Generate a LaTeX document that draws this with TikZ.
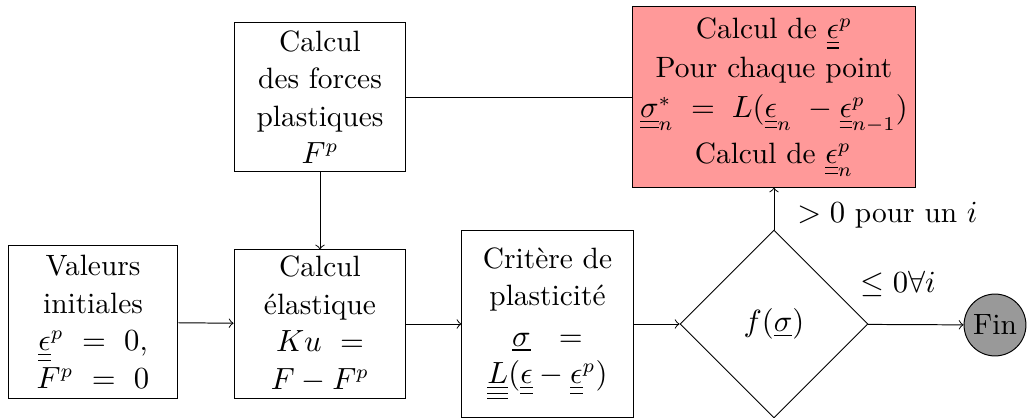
\documentclass[tikz,border=0pt]{standalone}
\usetikzlibrary{shapes.geometric}
\newcommand{\uu}[1]{\underline{\underline{#1}}}
\newcommand{\uuu}[1]{\underline{\underline{\underline{#1}}}}
\begin{document}
\begin{tikzpicture}[x=0.35714pt,y=-0.35714pt,
  line width=0.35pt,
  font=\fontsize{10.5}{13.4}\selectfont,
  box/.style={draw,align=center,inner sep=1pt},
  arr/.style={->},
  lbl/.style={inner sep=0pt}]
\useasboundingbox (0,0) rectangle (1028,418);
\node[box,minimum width=60.7pt,minimum height=54.3pt] (init) at (93,322)
  {Valeurs\\initiales\\$\uu{\epsilon}^p\ =\ 0$,\\$F^p\ =\ 0$};
\node[box,minimum width=61.4pt,minimum height=52.9pt] (elas) at (320,324)
  {Calcul\\\'elastique\\$Ku\ =$\\$F-F^p$};
\node[box,minimum width=61.1pt,minimum height=67pt] (crit) at (547.5,324)
  {Crit\`ere de\\plasticit\'e\\[1pt]$\underline{\sigma}\ \ =$\\$\uuu{L}(\uu{\epsilon}-\uu{\epsilon}^p)$};
\node[draw,diamond,aspect=1,minimum width=67.1pt,minimum height=67.1pt,inner sep=0pt] (crit2) at (774,324)
  {$f(\underline{\sigma})$};
\node[draw,circle,fill=gray!80,minimum size=22.1pt,inner sep=0pt] (fin) at (995,325) {Fin};
\node[box,minimum width=61.4pt,minimum height=52.9pt] (forces) at (320,97)
  {Calcul\\des forces\\plastiques\\$F^p$};
\node[box,fill=red!40,minimum width=101.4pt,minimum height=64.3pt] (plast) at (774,97)
  {Calcul de $\uu{\epsilon}^p$\\[0.5pt]Pour chaque point\\[1pt]$\uu{\sigma}_n^{*}\;=\;L(\uu{\epsilon}_n\ -\uu{\epsilon}^p_{n-1})$\\[3pt]Calcul de $\uu{\epsilon}^p_n$};
\draw[arr] (init) -- (elas);
\draw[arr] (elas) -- (crit);
\draw[arr] (crit) -- (crit2);
\draw[arr] (crit2) -- (fin);
\draw[arr] (crit2) -- (plast);
\draw (plast) -- (forces);
\draw[arr] (forces) -- (elas);
\node[lbl,anchor=west] (l1) at (797,215) {$>0$ pour un $i$};
\node[lbl,anchor=west] (l2) at (860,284) {$\leq 0\forall i$};
\end{tikzpicture}
\end{document}
